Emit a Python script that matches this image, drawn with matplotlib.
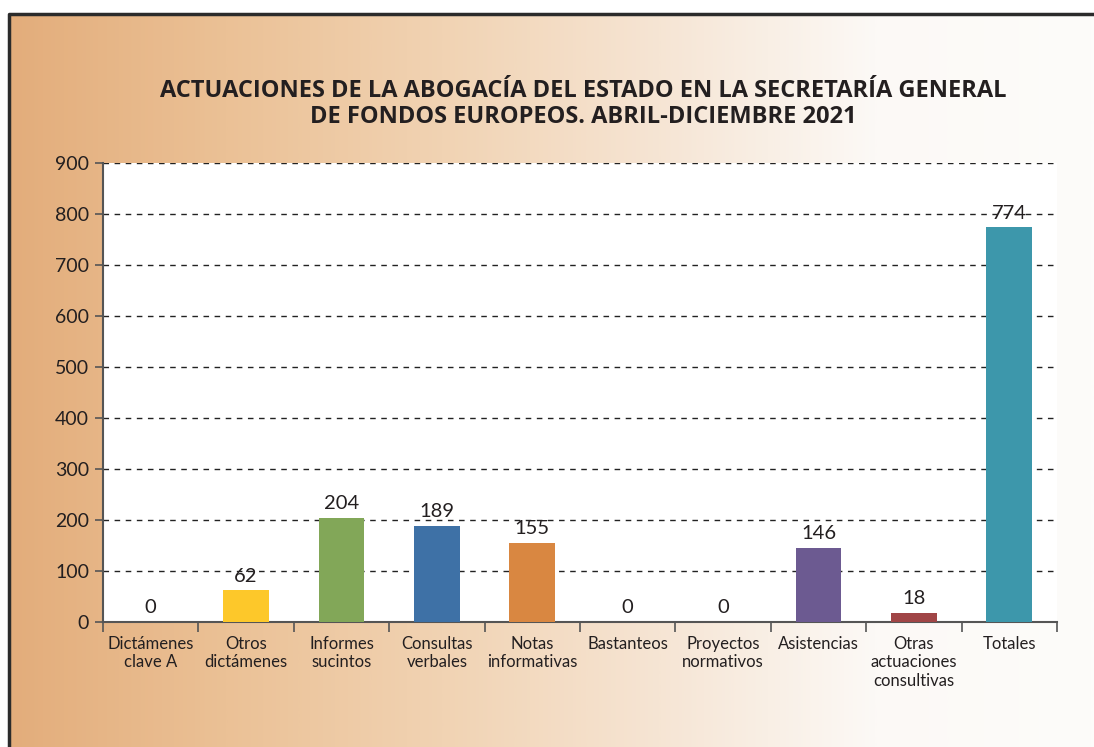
import matplotlib.pyplot as plt
import numpy as np
from matplotlib.colors import LinearSegmentedColormap

plt.rcParams['font.family'] = ['Lato', 'DejaVu Sans']

categorias = ['Dictámenes\nclave A', 'Otros\ndictámenes', 'Informes\nsucintos',
              'Consultas\nverbales', 'Notas\ninformativas', 'Bastanteos',
              'Proyectos\nnormativos', 'Asistencias', 'Otras\nactuaciones\nconsultivas',
              'Totales']
valores = [0, 62, 204, 189, 155, 0, 0, 146, 18, 774]
colores = ['#FDC82A', '#FDC82A', '#82A758', '#3E71A6', '#D98741', '#D98741',
           '#D98741', '#6C5A91', '#A04546', '#3D97AB']
titulo = ('ACTUACIONES DE LA ABOGACÍA DEL ESTADO EN LA SECRETARÍA GENERAL\n'
          'DE FONDOS EUROPEOS. ABRIL-DICIEMBRE 2021')
texto = '#231F20'

W, H = 1094, 747
fig = plt.figure(figsize=(W / 100, H / 100), dpi=100)

# fondo degradado con borde
bg = fig.add_axes([0, 0, 1, 1], zorder=-1)
bg.set_xlim(0, W)
bg.set_ylim(H, 0)
bg.axis('off')
cmap = LinearSegmentedColormap.from_list(
    'fondo', ['#E3AD7B', '#EBC196', '#F1D3B3', '#F6E5D4', '#FCF9F6', '#FDFCFA'])
grad = np.linspace(0, 1, 512).reshape(1, -1)
bg.imshow(grad, cmap=cmap, aspect='auto', extent=(9, W, H, 14))
bg.plot([9, 9, W], [H, 14, 14], color='#2B2B2B', lw=2.5, solid_capstyle='butt')

ax = fig.add_axes([103 / W, 1 - 622 / H, (1057 - 103) / W, (622 - 163) / H])
ax.set_facecolor('white')
x = np.arange(len(valores))
ax.bar(x, valores, width=0.48, color=colores, zorder=3)
for xi, v in zip(x, valores):
    ax.text(xi, v + 11, str(v), ha='center', va='bottom', fontsize=14.5,
            color=texto, zorder=4)

ax.set_xlim(-0.5, len(valores) - 0.5)
ax.set_ylim(0, 900)
ax.set_yticks(range(0, 901, 100))
ax.yaxis.grid(True, linestyle=(0, (4, 4)), color='#222222', lw=1)
ax.set_axisbelow(True)
ax.tick_params(axis='y', labelsize=14, labelcolor=texto, color='#555555',
               length=6, width=1.2, pad=4)

ax.set_xticks(x)
ax.set_xticklabels(categorias, fontsize=12, color=texto, linespacing=1.2)
ax.tick_params(axis='x', length=0, pad=10)
ax.set_xticks(np.arange(-0.5, len(valores)), minor=True)
ax.tick_params(axis='x', which='minor', length=7, width=1.2, color='#555555')

for s in ['top', 'right']:
    ax.spines[s].set_visible(False)
for s in ['left', 'bottom']:
    ax.spines[s].set_color('#555555')
    ax.spines[s].set_linewidth(1.5)

fig.text(583 / W, 1 - 104 / H, titulo, ha='center', va='center', fontsize=17,
         fontweight='bold', color=texto, linespacing=1.1,
         family=['Open Sans', 'DejaVu Sans'])

fig.savefig('out.png', dpi=100)
